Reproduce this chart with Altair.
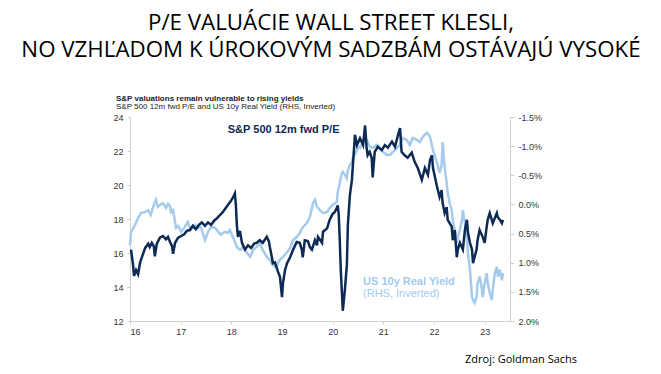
import altair as alt
import pandas as pd

# ---- data ----
pe_years = [16.02,16.06,16.08,16.12,16.16,16.20,16.24,16.30,16.36,16.39,16.43,16.47,16.49,16.53,16.59,16.65,16.71,16.75,16.79,16.83,16.85,16.89,16.95,17.01,17.07,17.12,17.18,17.24,17.30,17.36,17.42,17.48,17.54,17.60,17.66,17.72,17.78,17.83,17.89,17.95,17.99,18.03,18.07,18.09,18.11,18.13,18.17,18.21,18.27,18.33,18.39,18.45,18.50,18.56,18.62,18.70,18.74,18.76,18.80,18.82,18.86,18.92,18.96,19.00,19.02,19.06,19.10,19.16,19.22,19.29,19.35,19.39,19.41,19.45,19.51,19.55,19.59,19.65,19.69,19.71,19.79,19.81,19.89,19.94,20.00,20.04,20.08,20.10,20.12,20.14,20.16,20.20,20.24,20.28,20.30,20.34,20.38,20.40,20.44,20.48,20.54,20.60,20.64,20.67,20.69,20.73,20.77,20.79,20.83,20.89,20.97,21.03,21.09,21.17,21.23,21.29,21.33,21.36,21.42,21.48,21.56,21.62,21.68,21.76,21.82,21.88,21.92,21.96,21.98,22.02,22.06,22.11,22.15,22.17,22.21,22.25,22.27,22.35,22.37,22.41,22.45,22.47,22.51,22.57,22.61,22.65,22.67,22.71,22.75,22.77,22.80,22.84,22.86,22.90,22.96,23.00,23.04,23.06,23.10,23.16,23.24,23.26,23.30,23.34,23.36]
pe_values = [16.2,15.3,14.65,15.0,14.75,15.45,15.8,16.3,16.55,16.35,16.6,16.4,15.8,16.55,16.9,17.0,16.8,16.95,16.65,16.4,15.95,16.6,16.9,17.0,17.1,17.3,17.35,17.6,17.4,17.65,17.8,17.6,17.8,17.65,17.9,18.05,18.25,18.4,18.65,18.9,19.05,19.25,19.5,18.8,17.6,16.95,17.3,16.6,16.2,16.45,16.3,16.55,16.6,16.75,16.6,16.95,16.7,16.35,15.75,15.4,15.45,14.9,14.6,13.4,14.25,15.0,15.4,15.75,16.2,16.65,16.6,16.2,15.75,16.75,16.7,16.35,16.2,16.75,16.45,16.95,16.6,17.25,17.45,17.95,18.3,18.4,18.65,18.8,18.25,16.75,15.0,12.6,13.8,15.3,17.65,19.4,20.3,21.2,22.95,22.35,22.75,22.35,23.5,22.2,21.75,21.95,21.6,20.45,21.95,22.25,22.05,22.35,22.2,22.55,22.25,22.95,23.35,21.95,21.75,21.6,21.9,21.35,21.0,20.3,21.0,20.6,21.45,21.75,21.0,20.45,19.9,19.3,19.7,18.95,18.35,18.7,17.95,17.55,16.75,17.35,15.75,16.2,16.6,16.2,17.35,17.95,17.2,16.6,16.2,15.4,15.75,16.2,16.75,17.35,16.95,16.6,17.55,17.95,18.35,17.75,18.35,18.1,17.95,17.75,17.95]

ry_years = [16.00,16.02,16.10,16.16,16.22,16.30,16.36,16.41,16.45,16.51,16.55,16.59,16.65,16.71,16.75,16.79,16.81,16.85,16.89,16.91,16.95,17.01,17.08,17.14,17.20,17.28,17.34,17.40,17.48,17.54,17.60,17.68,17.74,17.79,17.87,17.93,17.97,18.03,18.11,18.17,18.23,18.31,18.37,18.43,18.50,18.56,18.62,18.70,18.76,18.82,18.90,18.92,18.96,19.02,19.10,19.16,19.22,19.29,19.35,19.41,19.49,19.55,19.61,19.65,19.69,19.75,19.81,19.89,19.94,20.00,20.08,20.10,20.14,20.18,20.20,20.24,20.28,20.30,20.34,20.38,20.40,20.48,20.50,20.54,20.60,20.67,20.73,20.79,20.87,20.93,20.99,21.07,21.13,21.19,21.27,21.33,21.38,21.46,21.52,21.58,21.66,21.72,21.78,21.86,21.92,21.98,22.06,22.11,22.15,22.17,22.21,22.25,22.27,22.31,22.35,22.37,22.41,22.45,22.47,22.51,22.55,22.57,22.61,22.65,22.67,22.71,22.75,22.77,22.80,22.84,22.86,22.90,22.94,22.96,23.00,23.04,23.06,23.10,23.14,23.16,23.20,23.24,23.26,23.30,23.34,23.36]
ry_values = [0.70,0.47,0.35,0.23,0.15,0.13,0.10,0.18,0.06,-0.08,0.04,0.01,-0.02,0.06,-0.01,0.03,0.13,0.10,0.30,0.40,0.37,0.47,0.39,0.30,0.44,0.35,0.40,0.39,0.61,0.47,0.39,0.40,0.47,0.52,0.47,0.49,0.44,0.56,0.73,0.78,0.73,0.83,0.90,0.78,0.73,0.66,0.78,0.90,0.95,1.04,1.09,1.00,0.95,0.90,0.82,0.75,0.61,0.56,0.49,0.39,0.32,0.22,-0.02,-0.08,0.04,0.10,0.15,0.13,0.06,0.01,-0.04,-0.21,-0.37,-0.54,-0.56,-0.51,-0.45,-0.59,-0.68,-0.73,-0.80,-0.93,-0.99,-0.97,-1.07,-1.11,-0.99,-0.97,-1.02,-0.97,-0.90,-0.85,-0.85,-0.90,-0.97,-1.02,-1.14,-1.11,-1.02,-1.14,-1.11,-1.07,-1.16,-1.23,-1.16,-0.93,-0.71,-0.54,-0.68,-1.07,-0.64,-0.37,-0.20,-0.02,0.10,0.27,0.44,0.66,0.56,0.44,0.27,0.10,0.32,0.56,0.83,1.12,1.59,1.64,1.69,1.59,1.35,1.24,1.42,1.59,1.35,1.18,1.35,1.52,1.64,1.47,1.18,1.07,1.24,1.12,1.30,1.18]

x_ticks = [16, 17, 18, 19, 20, 21, 22, 23]
pe_ticks = [12, 14, 16, 18, 20, 22, 24]
ry_ticks = [-1.5, -1.0, -0.5, 0.0, 0.5, 1.0, 1.5, 2.0]

title_line1 = "P/E VALUÁCIE WALL STREET KLESLI,"
title_line2 = "NO VZHĽADOM K ÚROKOVÝM SADZBÁM OSTÁVAJÚ VYSOKÉ"
sub1_text = "S&P valuations remain vulnerable to rising yields"
sub2_text = "S&P 500 12m fwd P/E and US 10y Real Yield (RHS, Inverted)"
source_text = "Zdroj: Goldman Sachs"
pe_label = ["S&P 500 12m fwd P/E"]
pe_label_pos = [(17.93, 23.25)]
ry_label1 = ["US 10y Real Yield"]
ry_label2 = ["(RHS, Inverted)"]
ry_label_pos = [(20.6, 1.33), (20.6, 1.54)]

DARK = "#0c2a54"
LIGHT = "#a4cbec"
AXIS_GREY = "#d0d0d0"
LABEL = "#333333"
FONT = "Liberation Sans"

pe_df = pd.DataFrame({"year": pe_years, "pe": pe_values})
ry_df = pd.DataFrame({"year": ry_years, "ry": ry_values})

xscale = alt.Scale(domain=[16, 23.5], nice=False, zero=False)
xaxis = alt.Axis(values=x_ticks, format="d", grid=False, domainColor=AXIS_GREY,
                 tickColor=AXIS_GREY, tickSize=3, labelFont=FONT, labelFontSize=9,
                 labelColor=LABEL, labelPadding=3, title=None)

pe_axis = alt.Axis(orient="left", values=pe_ticks, format="d", grid=False,
                   domainColor=AXIS_GREY, tickColor=AXIS_GREY, tickSize=3,
                   labelFont=FONT, labelFontSize=9, labelColor=LABEL,
                   labelPadding=4, title=None)
ry_axis = alt.Axis(orient="right", values=ry_ticks, grid=False,
                   labelExpr="replace(format(datum.value, '.1f'), '\u2212', '-') + '%'",
                   domainColor=AXIS_GREY, tickColor=AXIS_GREY, tickSize=4,
                   labelFont=FONT, labelFontSize=9, labelColor=LABEL,
                   labelPadding=4, title=None)

pe_scale = alt.Scale(domain=[12, 24], nice=False, zero=False)
ry_scale = alt.Scale(domain=[-1.5, 2.0], nice=False, zero=False, reverse=True)

ry_line = alt.Chart(ry_df).mark_line(color=LIGHT, strokeWidth=2.5).encode(
    x=alt.X("year:Q", scale=xscale, axis=xaxis),
    y=alt.Y("ry:Q", scale=ry_scale, axis=ry_axis),
)
ry_lab_df = pd.DataFrame({"year": [p[0] for p in ry_label_pos],
                          "ry": [p[1] for p in ry_label_pos],
                          "t": ry_label1 + ry_label2})
ry_text1 = alt.Chart(ry_lab_df.iloc[[0]]).mark_text(
    align="left", baseline="middle", font=FONT, fontSize=11, fontWeight="bold",
    color=LIGHT).encode(x="year:Q", y=alt.Y("ry:Q", scale=ry_scale, axis=ry_axis), text="t:N")
ry_text2 = alt.Chart(ry_lab_df.iloc[[1]]).mark_text(
    align="left", baseline="middle", font=FONT, fontSize=11,
    color=LIGHT).encode(x="year:Q", y=alt.Y("ry:Q", scale=ry_scale, axis=ry_axis), text="t:N")

pe_line = alt.Chart(pe_df).mark_line(color=DARK, strokeWidth=2.5).encode(
    x=alt.X("year:Q", scale=xscale, axis=xaxis),
    y=alt.Y("pe:Q", scale=pe_scale, axis=pe_axis),
)
pe_lab_df = pd.DataFrame({"year": [pe_label_pos[0][0]], "pe": [pe_label_pos[0][1]], "t": pe_label})
pe_text = alt.Chart(pe_lab_df).mark_text(
    align="left", baseline="middle", font=FONT, fontSize=11, fontWeight="bold",
    color=DARK).encode(x="year:Q", y=alt.Y("pe:Q", scale=pe_scale, axis=pe_axis), text="t:N")

right = alt.layer(ry_line, ry_text1, ry_text2)
left = alt.layer(pe_line, pe_text)

title1_mark = alt.Chart(pd.DataFrame({"t": [title_line1]})).mark_text(
    align="center", baseline="alphabetic", font="Open Sans", fontSize=22.3,
    color="#000000").encode(x=alt.value(201), y=alt.value(-87), text="t:N")
title2_mark = alt.Chart(pd.DataFrame({"t": [title_line2]})).mark_text(
    align="center", baseline="alphabetic", font="Open Sans", fontSize=22.3,
    color="#000000").encode(x=alt.value(201), y=alt.value(-60), text="t:N")
sub1_mark = alt.Chart(pd.DataFrame({"t": [sub1_text]})).mark_text(
    align="left", baseline="alphabetic", font=FONT, fontSize=8, fontWeight="bold",
    color="#222222").encode(x=alt.value(-14), y=alt.value(-16), text="t:N")
sub2_mark = alt.Chart(pd.DataFrame({"t": [sub2_text]})).mark_text(
    align="left", baseline="alphabetic", font=FONT, fontSize=8,
    color="#222222").encode(x=alt.value(-14), y=alt.value(-8), text="t:N")
source_mark = alt.Chart(pd.DataFrame({"t": [source_text]})).mark_text(
    align="left", baseline="alphabetic", font="Open Sans", fontSize=11,
    color="#000000").encode(x=alt.value(335), y=alt.value(246), text="t:N")

chart = alt.layer(right, left, title1_mark, title2_mark, sub1_mark, sub2_mark, source_mark).resolve_scale(
    y="independent"
).properties(
    width=380, height=204,
    padding={"left": 122, "top": 109, "right": 143, "bottom": 45},
    autosize=alt.AutoSizeParams(type="none"),
    background="white",
).configure_view(stroke=None)

chart.save("out.html", embed_options={"renderer": "svg", "actions": False})
